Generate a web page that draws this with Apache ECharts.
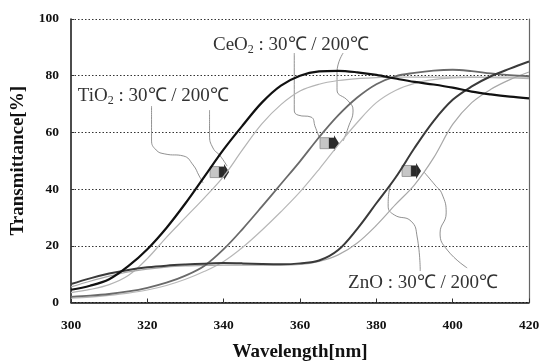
<!DOCTYPE html>
<html>
<head>
<meta charset="utf-8">
<script src="https://cdn.jsdelivr.net/npm/echarts@6/dist/echarts.min.js"></script>
<style>
  html, body { margin: 0; padding: 0; background: #fff; }
  #chart { width: 543px; height: 363px; }
</style>
</head>
<body>
<div id="chart"></div>
<script>
// Wavelength grid (nm) shared by all transmittance curves
const wavelengths = [300, 305, 310, 315, 320, 325, 330, 335, 340, 345, 350, 355, 360,
                     365, 370, 375, 380, 385, 390, 395, 400, 405, 410, 415, 420];

// Transmittance [%] for each film, as-deposited (30 °C) and at 200 °C
const tio2_30  = [4.5, 5.9, 8.2, 12.8, 18.8, 26.3, 35.0, 44.5, 54.0, 62.5, 70.5, 76.5, 80.0,
                  81.5, 81.7, 81.2, 80.3, 79.0, 77.8, 76.9, 75.8, 74.4, 73.4, 72.6, 72.0];
const tio2_200 = [3.5, 4.6, 6.3, 9.5, 15.5, 23.0, 30.0, 37.0, 44.5, 54.0, 63.0, 69.8, 74.6,
                  77.0, 78.3, 79.0, 79.3, 79.5, 79.5, 79.5, 79.5, 79.5, 79.3, 79.2, 79.0];
const ceo2_30  = [2.0, 2.4, 3.0, 3.9, 5.2, 7.0, 9.5, 13.0, 18.8, 26.0, 33.8, 41.8, 49.8,
                  58.3, 66.0, 72.3, 77.0, 79.8, 81.0, 81.8, 82.1, 81.6, 80.8, 80.2, 79.8];
const ceo2_200 = [1.5, 1.9, 2.5, 3.3, 4.4, 6.0, 8.2, 11.0, 14.5, 19.5, 25.5, 32.0, 39.0,
                  47.0, 55.5, 63.5, 70.5, 74.8, 77.3, 78.6, 79.2, 79.4, 79.5, 79.5, 79.5];
const zno_30   = [6.5, 8.5, 10.2, 11.5, 12.4, 13.0, 13.4, 13.7, 13.9, 13.8, 13.6, 13.5, 13.8,
                  14.8, 18.5, 26.0, 35.0, 44.0, 54.5, 64.0, 71.5, 76.2, 79.8, 82.5, 85.0];
const zno_200  = [5.5, 7.5, 9.3, 10.8, 11.8, 12.5, 12.9, 13.1, 13.2, 13.2, 13.2, 13.2, 13.4,
                  14.5, 16.8, 21.0, 27.2, 34.5, 41.5, 51.0, 62.8, 70.5, 75.2, 78.6, 81.3];

// Axis ticks
const xTicks = [300, 320, 340, 360, 380, 400, 420];
const yTicks = [0, 20, 40, 60, 80, 100];

const serif = '"Liberation Serif", "Times New Roman", serif';

// Annotation callouts: label anchor, curvy leader paths, and arrow marker (data coords)
const callouts = [
  {
    label: ['TiO', ' : 30℃ / 200℃'], at: [301.8, 72.8],
    leaders: [
      [[321.1, 69.3], [321.1, 57.3], [322.3, 53.8], [324.6, 52.4], [329.4, 51.7], [332.0, 48.5], [333.6, 44.6], [334.6, 42.2]],
      [[336.3, 67.9], [336.3, 59.1], [337.2, 54.5], [339.1, 51.7], [340.9, 48.1]]
    ],
    arrow: [338.8, 46.0]
  },
  {
    label: ['CeO', ' : 30℃ / 200℃'], at: [337.2, 90.8],
    leaders: [
      [[358.5, 88.0], [358.5, 67.9], [359.5, 66.1], [362.9, 65.4], [364.0, 61.9], [365.0, 58.4]],
      [[371.3, 88.0], [369.7, 81.3], [369.7, 75.0], [372.6, 71.1], [373.9, 67.9], [372.6, 61.6], [371.3, 57.0]]
    ],
    arrow: [367.6, 56.2]
  },
  {
    label: ['ZnO', ' : 30℃ / 200℃'], at: [372.6, 6.9], plain: true,
    leaders: [
      [[391.5, 11.1], [390.7, 23.1], [389.1, 28.7], [384.7, 30.9], [383.1, 34.0], [383.4, 39.7], [384.1, 42.5]],
      [[403.8, 12.2], [398.6, 18.5], [396.7, 24.5], [398.3, 31.6], [397.2, 38.3], [395.4, 41.4], [392.5, 46.0]]
    ],
    arrow: [389.1, 46.4]
  }
];

function pairs(ys) { return wavelengths.map((w, i) => [w, ys[i]]); }

function curve(name, ys, color, width) {
  return {
    name, type: 'line', data: pairs(ys), smooth: 0.35, showSymbol: false,
    lineStyle: { color, width }, silent: true, z: 3
  };
}

const chart = echarts.init(document.getElementById('chart'), null, { renderer: 'canvas' });

const series = [
  curve('TiO2 200', tio2_200, '#b4b4b4', 1.2),
  curve('CeO2 200', ceo2_200, '#b8b8b8', 1.2),
  curve('ZnO 200',  zno_200,  '#a8a8a8', 1.2),
  curve('CeO2 30',  ceo2_30,  '#6a6a6a', 1.8),
  curve('ZnO 30',   zno_30,   '#3a3a3a', 2),
  curve('TiO2 30',  tio2_30,  '#111111', 2.2)
];

callouts.forEach((c, ci) => {
  c.leaders.forEach((path, li) => {
    series.push({
      name: 'leader' + ci + '_' + li, type: 'line', data: path, smooth: 0.5,
      showSymbol: false, silent: true, z: 2,
      lineStyle: { color: '#858585', width: 0.9 }
    });
  });
});

chart.setOption({
  animation: false,
  grid: { left: 71, right: 14, top: 19, bottom: 60.5, containLabel: false, outerBoundsMode: 'none' },
  xAxis: {
    type: 'value', min: 300, max: 420, interval: 20,
    name: 'Wavelength[nm]', nameLocation: 'middle', nameGap: 40,
    nameTextStyle: { fontFamily: serif, fontWeight: 'bold', fontSize: 19, color: '#111' },
    axisLine: { show: true, lineStyle: { color: '#111', width: 1.5 } },
    axisTick: { show: true, inside: true, length: 4, lineStyle: { color: '#333' } },
    axisLabel: {
      margin: 16, fontFamily: serif, fontWeight: 'bold', fontSize: 13.5, color: '#111',
      customValues: xTicks
    },
    splitLine: { show: false }
  },
  yAxis: [{
    type: 'value', min: 0, max: 100, interval: 20,
    name: 'Transmittance[%]', nameLocation: 'middle', nameGap: 42,
    nameTextStyle: { fontFamily: serif, fontWeight: 'bold', fontSize: 19, color: '#111' },
    axisLine: { show: true, lineStyle: { color: '#111', width: 1.5 } },
    axisTick: { show: true, inside: true, length: 3, lineStyle: { color: '#333' } },
    axisLabel: {
      margin: 12, fontFamily: serif, fontWeight: 'bold', fontSize: 13.5, color: '#111',
      customValues: yTicks
    },
    splitLine: { show: true, lineStyle: { color: '#333', width: 1.2, type: [1.5, 2] } }
  }, {
    type: 'value', min: 0, max: 100, position: 'right',
    axisLine: { show: true, lineStyle: { color: '#666', width: 1.2 } },
    axisTick: { show: false }, axisLabel: { show: false }, splitLine: { show: false }
  }],
  series
});

// Labels and block arrows placed at their data anchors
const graphics = [];
callouts.forEach((c) => {
  const p = chart.convertToPixel({ gridIndex: 0 }, c.at);
  const text = c.plain
    ? '{n|' + c.label[0] + c.label[1] + '}'
    : '{n|' + c.label[0] + '}{s|2}{n|' + c.label[1] + '}';
  graphics.push({
    type: 'text', x: p[0], y: p[1], z: 10,
    style: {
      text, verticalAlign: 'middle', align: 'left',
      rich: {
        n: { fontFamily: serif, fontSize: 19, fill: '#333' },
        s: { fontFamily: serif, fontSize: 12, fill: '#333', padding: [10, 0, 0, 0] }
      }
    }
  });
  const a = chart.convertToPixel({ gridIndex: 0 }, c.arrow);
  const ax = a[0], ay = a[1];
  graphics.push({
    type: 'group', z: 12, children: [
      { type: 'rect', shape: { x: ax - 9, y: ay - 5.5, width: 9, height: 11 },
        style: { fill: '#c6c6c6', stroke: '#8a8a8a', lineWidth: 0.8 } },
      { type: 'rect', shape: { x: ax, y: ay - 5.5, width: 5, height: 11 },
        style: { fill: '#2a2a2a' } },
      { type: 'polygon', shape: { points: [[ax + 5, ay - 8], [ax + 10, ay], [ax + 5, ay + 8]] },
        style: { fill: '#2a2a2a' } }
    ]
  });
});
chart.setOption({ graphic: graphics });
</script>
</body>
</html>
